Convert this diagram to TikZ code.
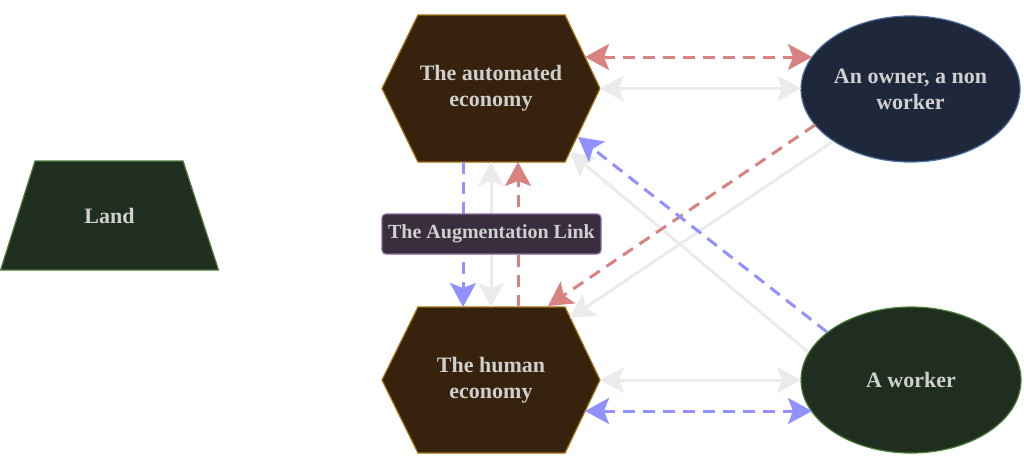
\documentclass[tikz,border=0pt]{standalone}
\usepackage{fontspec}
\setmainfont{Liberation Serif}
\usetikzlibrary{arrows.meta,shapes.geometric}
\definecolor{hexfill}{HTML}{37230D}
\definecolor{hexline}{HTML}{A0700F}
\definecolor{ownfill}{HTML}{1E283A}
\definecolor{ownline}{HTML}{4F6F9F}
\definecolor{grnfill}{HTML}{1F2E1F}
\definecolor{grnline}{HTML}{4E7D3A}
\definecolor{augfill}{HTML}{3A2E3E}
\definecolor{augline}{HTML}{8A6B9B}
\definecolor{txt}{HTML}{CFCFCF}
\definecolor{redl}{HTML}{D98282}
\definecolor{bluel}{HTML}{9191FF}
\definecolor{grayl}{HTML}{EBEBEB}
\begin{document}
\begin{tikzpicture}[x=1pt,y=-1pt,
  >={Stealth[length=24pt,width=26pt,inset=5pt]},
  lbl/.style={text=txt,font=\bfseries\fontsize{22}{26}\selectfont,align=center,inner sep=0pt},
  hexshape/.style={fill=hexfill,draw=hexline,line width=1.2pt,line join=miter},
  ellnode/.style={ellipse,minimum width=219pt,minimum height=146pt,inner sep=0pt,line width=1.2pt,text=txt,font=\bfseries\fontsize{22}{26}\selectfont,align=center},
  link/.style={line width=3pt},
  dsh/.style={link,dash pattern=on 12pt off 8pt},
  redlink/.style={dsh,draw=redl},
  bluelink/.style={dsh,draw=bluel},
  graylink/.style={link,draw=grayl},
  augbox/.style={rounded corners=4pt,fill=augfill,draw=augline,line width=1.2pt,minimum width=219pt,minimum height=40pt,inner sep=0pt,text=txt,font=\bfseries\fontsize{20}{24}\selectfont}
]
\useasboundingbox (0,0) rectangle (1024,459);

% Land
\path[fill=grnfill,draw=grnline,line width=1.2pt] (0.6,270) -- (35,161) -- (183,161) -- (218.5,270) -- cycle;
\node[lbl] (L) at (109.5,216) {Land};

% hexagons
\path[hexshape] (382,88.5) -- (418,15) -- (565,15) -- (600,88.5) -- (565,162) -- (418,162) -- cycle;
\node[lbl] (A) at (491,88.5) {The automated\\economy};
\path[hexshape] (382,380) -- (418,307) -- (565,307) -- (600,380) -- (565,453) -- (418,453) -- cycle;
\node[lbl] (H) at (491,380) {The human\\economy};

% ellipses
\node[ellnode,fill=ownfill,draw=ownline] (O) at (910.5,89) {An owner, a non\\worker};
\node[ellnode,fill=grnfill,draw=grnline,minimum width=220pt] (W) at (911,380) {A worker};

% endpoints
\coordinate (a1) at (585,57);   \coordinate (o1) at (812,57);
\coordinate (a2) at (600,88.5); \coordinate (o2) at (801,88.5);
\coordinate (w3) at (827,332);  \coordinate (a3) at (578,137);
\coordinate (w4) at (808,352);  \coordinate (a4) at (570,152);
\coordinate (o5) at (815,125);  \coordinate (h5) at (548,306);
\coordinate (o6) at (832,142);  \coordinate (h6) at (570,318);
\coordinate (h7) at (600,380);  \coordinate (w7) at (801,380);
\coordinate (h8) at (585,411);  \coordinate (w8) at (812,411);
\coordinate (a9) at (463,162);  \coordinate (h9) at (463,307);
\coordinate (a10) at (491,162); \coordinate (h10) at (491,307);
\coordinate (h11) at (518,307); \coordinate (a11) at (518,162);

% connectors
\draw[graylink,<->] (a2) -- (o2);
\draw[graylink,->] (w4) -- (a4);
\draw[graylink,->] (o6) -- (h6);
\draw[graylink,<->] (h7) -- (w7);
\draw[graylink,<->] (a10) -- (h10);
\draw[redlink,<->] (a1) -- (o1);
\draw[redlink,->] (o5) -- (h5);
\draw[redlink,->] (h11) -- (a11);
\draw[bluelink,->] (w3) -- (a3);
\draw[bluelink,<->] (h8) -- (w8);
\draw[bluelink,->] (a9) -- (h9);

% label
\node[augbox] (aug) at (491.5,234) {The Augmentation Link};
\end{tikzpicture}
\end{document}
